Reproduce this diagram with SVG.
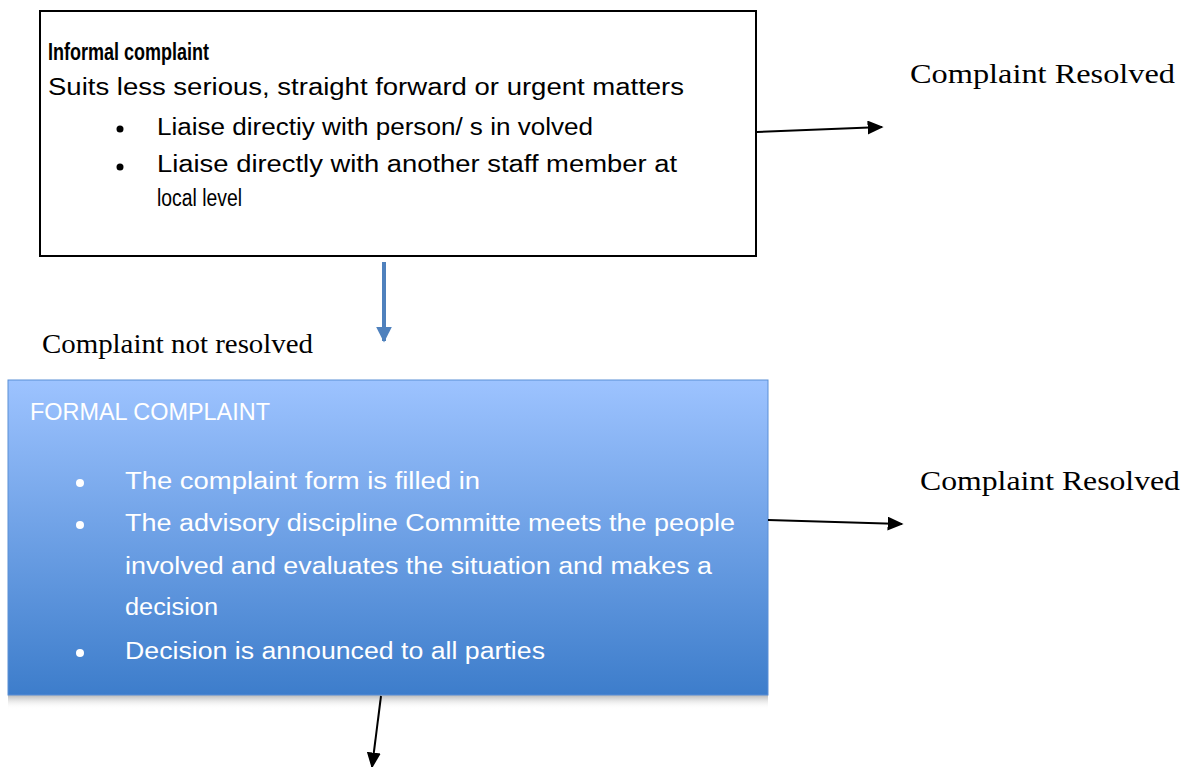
<svg xmlns="http://www.w3.org/2000/svg" width="1184" height="767" viewBox="0 0 1184 767">
<defs>
<linearGradient id="blueGrad" x1="0" y1="0" x2="0" y2="1">
<stop offset="0" stop-color="#9dc3ff"/>
<stop offset="1" stop-color="#3d7dcb"/>
</linearGradient>
<linearGradient id="shadow" x1="0" y1="0" x2="0" y2="1">
<stop offset="0" stop-color="#999" stop-opacity="0.7"/>
<stop offset="1" stop-color="#fff" stop-opacity="0"/>
</linearGradient>
<marker id="arrBlack" viewBox="0 0 10 10" refX="9" refY="5" markerWidth="16" markerHeight="14" markerUnits="userSpaceOnUse" orient="auto" preserveAspectRatio="none">
<path d="M0,0 L10,5 L0,10 z" fill="#000"/>
</marker>
<marker id="arrBlue" viewBox="0 0 10 10" refX="9" refY="5" markerWidth="16" markerHeight="16" markerUnits="userSpaceOnUse" orient="auto">
<path d="M0,0 L10,5 L0,10 z" fill="#4f81bd"/>
</marker>
</defs>
<style>
.cal{font-family:"Liberation Sans","Noto Sans",sans-serif;font-size:23.5px;}
.ser{font-family:"Liberation Serif","Times New Roman",serif;font-size:28px;fill:#000;}
.wt{fill:#fff;}
.blk{fill:#000;}
</style>
<g id="informal">
<rect x="40" y="11" width="716" height="245" fill="#fff" stroke="#000" stroke-width="2"/>
<text class="cal blk" x="48" y="60" font-weight="bold" textLength="161" lengthAdjust="spacingAndGlyphs">Informal complaint</text>
<text class="cal blk" x="48" y="95" textLength="636" lengthAdjust="spacingAndGlyphs">Suits less serious, straight forward or urgent matters</text>
<circle cx="120" cy="129" r="3.5" fill="#000"/>
<text class="cal blk" x="157" y="135" textLength="436" lengthAdjust="spacingAndGlyphs">Liaise directiy with person/ s in volved</text>
<circle cx="120" cy="167" r="3.5" fill="#000"/>
<text class="cal blk" x="157" y="172" textLength="520" lengthAdjust="spacingAndGlyphs">Liaise directly with another staff member at</text>
<text class="cal blk" x="157" y="206" textLength="85" lengthAdjust="spacingAndGlyphs">local level</text>
</g>
<g id="resolved1">
<text class="ser" x="910" y="83" textLength="265" lengthAdjust="spacingAndGlyphs">Complaint Resolved</text>
</g>
<g id="notresolved">
<text class="ser" x="42" y="353" textLength="271" lengthAdjust="spacingAndGlyphs">Complaint not resolved</text>
</g>
<g id="formal">
<rect x="8" y="695" width="760" height="14" fill="url(#shadow)"/>
<rect x="8" y="380" width="760" height="315" fill="url(#blueGrad)" stroke="#5a8fd6" stroke-width="1"/>
<text class="cal wt" x="30" y="420" textLength="240" lengthAdjust="spacingAndGlyphs">FORMAL COMPLAINT</text>
<circle cx="80" cy="483" r="4" fill="#fff"/>
<text class="cal wt" x="125" y="489" textLength="355" lengthAdjust="spacingAndGlyphs">The complaint form is filled in</text>
<circle cx="80" cy="525" r="4" fill="#fff"/>
<text class="cal wt" x="125" y="531" textLength="610" lengthAdjust="spacingAndGlyphs">The advisory discipline Committe meets the people</text>
<text class="cal wt" x="125" y="574" textLength="587" lengthAdjust="spacingAndGlyphs">involved and evaluates the situation and makes a</text>
<text class="cal wt" x="125" y="615" textLength="93" lengthAdjust="spacingAndGlyphs">decision</text>
<circle cx="80" cy="653" r="4" fill="#fff"/>
<text class="cal wt" x="125" y="659" textLength="420" lengthAdjust="spacingAndGlyphs">Decision is announced to all parties</text>
</g>
<g id="resolved2">
<text class="ser" x="920" y="490" textLength="260" lengthAdjust="spacingAndGlyphs">Complaint Resolved</text>
</g>
<g id="connectors">
<line x1="757" y1="132" x2="882" y2="127" stroke="#000" stroke-width="2" marker-end="url(#arrBlack)"/>
<line x1="384" y1="262" x2="384" y2="341" stroke="#4f81bd" stroke-width="4" marker-end="url(#arrBlue)"/>
<line x1="768" y1="520" x2="902" y2="524" stroke="#000" stroke-width="2" marker-end="url(#arrBlack)"/>
<line x1="381" y1="696" x2="372" y2="767" stroke="#000" stroke-width="2" marker-end="url(#arrBlack)"/>
</g>
</svg>
